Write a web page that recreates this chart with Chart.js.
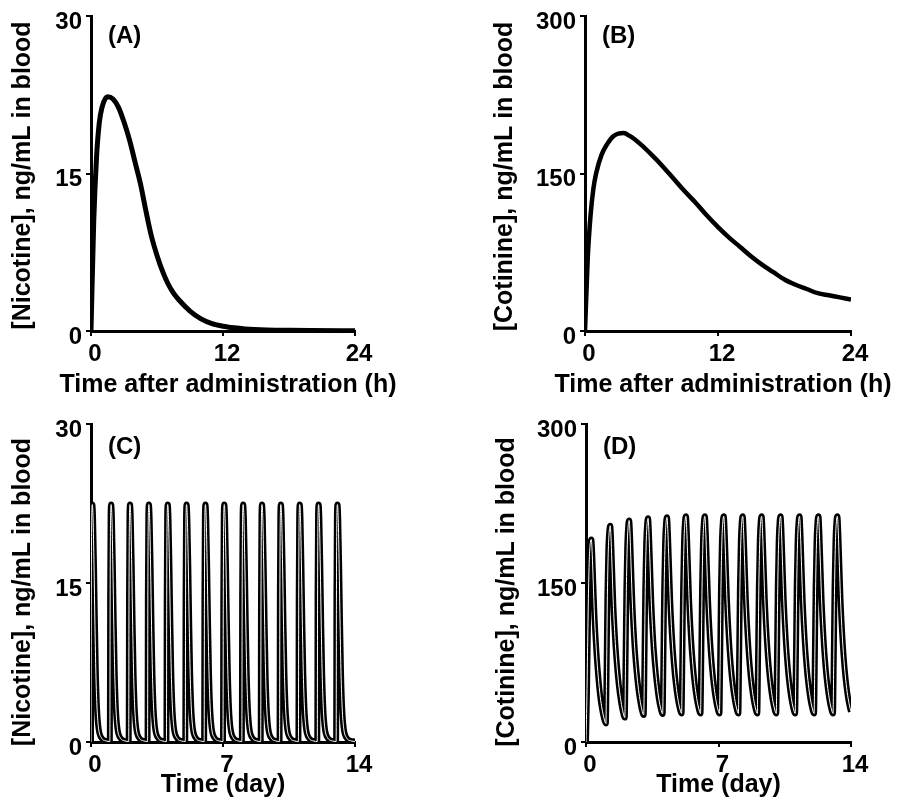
<!DOCTYPE html>
<html>
<head>
<meta charset="utf-8">
<title>Nicotine and cotinine in blood</title>
<script src="https://cdn.jsdelivr.net/npm/chart.js@4.4.1/dist/chart.umd.min.js"></script>
<style>
  body { margin: 0; background: #fff; }
  canvas { position: absolute; }
</style>
</head>
<body>
<canvas id="panelA" width="449" height="401" style="left:0;top:0"></canvas>
<canvas id="panelB" width="450" height="401" style="left:449px;top:0"></canvas>
<canvas id="panelC" width="449" height="401" style="left:0;top:401px"></canvas>
<canvas id="panelD" width="450" height="401" style="left:449px;top:401px"></canvas>
<script>
// (A) single dose, nicotine (ng/mL) vs hours
const hoursA = [0, 0.25, 0.5, 0.75, 1, 1.5, 2, 2.5, 3, 3.5, 4, 4.5, 5, 5.5, 6, 6.5, 7, 7.5, 8, 9, 10, 11, 12, 13, 14, 16, 18, 20, 24];
const nicotineA = [0, 10.5, 16.5, 19.8, 21.3, 22.3, 22.1, 21.3, 19.9, 18.2, 16.1, 14.0, 11.4, 9.0, 7.2, 5.7, 4.5, 3.6, 2.95, 1.9, 1.15, 0.7, 0.45, 0.3, 0.2, 0.1, 0.06, 0.04, 0.02];

// (B) single dose, cotinine (ng/mL) vs hours
const hoursB = [0, 0.25, 0.5, 0.75, 1, 1.5, 2, 2.5, 3, 3.5, 4, 5, 6, 7, 8, 9, 10, 11, 12, 13, 14, 15, 16, 17, 18, 19, 20, 21, 22, 23, 24];
const cotinineB = [0, 70, 110, 135, 150, 168, 178, 185, 188, 188.5, 186, 178, 168, 157, 145, 133, 122, 110, 99, 89, 80, 71, 63, 56, 49, 44, 40, 36, 34, 32, 30];

// (C) daily doses, nicotine vs days
const daysC = [
  0, 0.015, 0.04, 0.07, 0.11, 0.16, 0.21, 0.26, 0.32, 0.4, 0.55, 0.8,
  1, 1.015, 1.04, 1.07, 1.11, 1.16, 1.21, 1.26, 1.32, 1.4, 1.55, 1.8,
  2, 2.015, 2.04, 2.07, 2.11, 2.16, 2.21, 2.26, 2.32, 2.4, 2.55, 2.8,
  3, 3.015, 3.04, 3.07, 3.11, 3.16, 3.21, 3.26, 3.32, 3.4, 3.55, 3.8,
  4, 4.015, 4.04, 4.07, 4.11, 4.16, 4.21, 4.26, 4.32, 4.4, 4.55, 4.8,
  5, 5.015, 5.04, 5.07, 5.11, 5.16, 5.21, 5.26, 5.32, 5.4, 5.55, 5.8,
  6, 6.015, 6.04, 6.07, 6.11, 6.16, 6.21, 6.26, 6.32, 6.4, 6.55, 6.8,
  7, 7.015, 7.04, 7.07, 7.11, 7.16, 7.21, 7.26, 7.32, 7.4, 7.55, 7.8,
  8, 8.015, 8.04, 8.07, 8.11, 8.16, 8.21, 8.26, 8.32, 8.4, 8.55, 8.8,
  9, 9.015, 9.04, 9.07, 9.11, 9.16, 9.21, 9.26, 9.32, 9.4, 9.55, 9.8,
  10, 10.015, 10.04, 10.07, 10.11, 10.16, 10.21, 10.26, 10.32, 10.4, 10.55, 10.8,
  11, 11.015, 11.04, 11.07, 11.11, 11.16, 11.21, 11.26, 11.32, 11.4, 11.55, 11.8,
  12, 12.015, 12.04, 12.07, 12.11, 12.16, 12.21, 12.26, 12.32, 12.4, 12.55, 12.8,
  13, 13.015, 13.04, 13.07, 13.11, 13.16, 13.21, 13.26, 13.32, 13.4, 13.55, 13.8,
  14
];
const nicotineC = [
  0, 13.5, 21.3, 22.4, 21.1, 16.6, 11.0, 6.4, 3.2, 1.3, 0.4, 0.1,
  0.05, 13.5, 21.3, 22.4, 21.1, 16.6, 11.0, 6.4, 3.2, 1.3, 0.4, 0.1,
  0.05, 13.5, 21.3, 22.4, 21.1, 16.6, 11.0, 6.4, 3.2, 1.3, 0.4, 0.1,
  0.05, 13.5, 21.3, 22.4, 21.1, 16.6, 11.0, 6.4, 3.2, 1.3, 0.4, 0.1,
  0.05, 13.5, 21.3, 22.4, 21.1, 16.6, 11.0, 6.4, 3.2, 1.3, 0.4, 0.1,
  0.05, 13.5, 21.3, 22.4, 21.1, 16.6, 11.0, 6.4, 3.2, 1.3, 0.4, 0.1,
  0.05, 13.5, 21.3, 22.4, 21.1, 16.6, 11.0, 6.4, 3.2, 1.3, 0.4, 0.1,
  0.05, 13.5, 21.3, 22.4, 21.1, 16.6, 11.0, 6.4, 3.2, 1.3, 0.4, 0.1,
  0.05, 13.5, 21.3, 22.4, 21.1, 16.6, 11.0, 6.4, 3.2, 1.3, 0.4, 0.1,
  0.05, 13.5, 21.3, 22.4, 21.1, 16.6, 11.0, 6.4, 3.2, 1.3, 0.4, 0.1,
  0.05, 13.5, 21.3, 22.4, 21.1, 16.6, 11.0, 6.4, 3.2, 1.3, 0.4, 0.1,
  0.05, 13.5, 21.3, 22.4, 21.1, 16.6, 11.0, 6.4, 3.2, 1.3, 0.4, 0.1,
  0.05, 13.5, 21.3, 22.4, 21.1, 16.6, 11.0, 6.4, 3.2, 1.3, 0.4, 0.1,
  0.05, 13.5, 21.3, 22.4, 21.1, 16.6, 11.0, 6.4, 3.2, 1.3, 0.4, 0.1,
  0.05
];

// (D) daily doses, cotinine vs days
const daysD = [
  0, 0.05, 0.09, 0.13, 0.18, 0.23, 0.28, 0.33, 0.38, 0.45, 0.55, 0.65, 0.75, 0.85, 0.95,
  1.05, 1.09, 1.13, 1.18, 1.23, 1.28, 1.33, 1.38, 1.45, 1.55, 1.65, 1.75, 1.85, 1.95,
  2.05, 2.09, 2.13, 2.18, 2.23, 2.28, 2.33, 2.38, 2.45, 2.55, 2.65, 2.75, 2.85, 2.95,
  3.05, 3.09, 3.13, 3.18, 3.23, 3.28, 3.33, 3.38, 3.45, 3.55, 3.65, 3.75, 3.85, 3.95,
  4.05, 4.09, 4.13, 4.18, 4.23, 4.28, 4.33, 4.38, 4.45, 4.55, 4.65, 4.75, 4.85, 4.95,
  5.05, 5.09, 5.13, 5.18, 5.23, 5.28, 5.33, 5.38, 5.45, 5.55, 5.65, 5.75, 5.85, 5.95,
  6.05, 6.09, 6.13, 6.18, 6.23, 6.28, 6.33, 6.38, 6.45, 6.55, 6.65, 6.75, 6.85, 6.95,
  7.05, 7.09, 7.13, 7.18, 7.23, 7.28, 7.33, 7.38, 7.45, 7.55, 7.65, 7.75, 7.85, 7.95,
  8.05, 8.09, 8.13, 8.18, 8.23, 8.28, 8.33, 8.38, 8.45, 8.55, 8.65, 8.75, 8.85, 8.95,
  9.05, 9.09, 9.13, 9.18, 9.23, 9.28, 9.33, 9.38, 9.45, 9.55, 9.65, 9.75, 9.85, 9.95,
  10.05, 10.09, 10.13, 10.18, 10.23, 10.28, 10.33, 10.38, 10.45, 10.55, 10.65, 10.75, 10.85, 10.95,
  11.05, 11.09, 11.13, 11.18, 11.23, 11.28, 11.33, 11.38, 11.45, 11.55, 11.65, 11.75, 11.85, 11.95,
  12.05, 12.09, 12.13, 12.18, 12.23, 12.28, 12.33, 12.38, 12.45, 12.55, 12.65, 12.75, 12.85, 12.95,
  13.05, 13.09, 13.13, 13.18, 13.23, 13.28, 13.33, 13.38, 13.45, 13.55, 13.65, 13.75, 13.85, 13.95,
  14
];
const cotinineD = [
  0, 45, 95, 140, 175, 188, 191, 177, 152, 118, 85, 61, 43, 31, 22.5,
  17.5, 72, 138, 182, 199, 204, 189, 163, 127, 93, 69, 51, 38, 28.5,
  23, 77, 142, 186, 204, 209, 194, 167, 131, 95, 71, 53, 40, 30.5,
  25.5, 79, 144, 188, 206, 211, 195, 169, 132, 96, 72, 54, 40.5, 31.5,
  26.5, 80, 145, 189, 207, 212, 196, 170, 133, 97, 72, 54, 41, 32,
  27, 80, 145, 190, 208, 213, 197, 170, 133, 97, 72, 54, 41, 32,
  27, 80, 145, 190, 208, 213, 197, 170, 133, 97, 72, 54, 41, 32,
  27, 80, 145, 190, 208, 213, 197, 170, 133, 97, 72, 54, 41, 32,
  27, 80, 145, 190, 208, 213, 197, 170, 133, 97, 72, 54, 41, 32,
  27, 80, 145, 190, 208, 213, 197, 170, 133, 97, 72, 54, 41, 32,
  27, 80, 145, 190, 208, 213, 197, 170, 133, 97, 72, 54, 41, 32,
  27, 80, 145, 190, 208, 213, 197, 170, 133, 97, 72, 54, 41, 32,
  27, 80, 145, 190, 208, 213, 197, 170, 133, 97, 72, 54, 41, 32,
  27, 80, 145, 190, 208, 213, 197, 170, 133, 97, 72, 54, 41, 32,
  28.5
];

// tick labels
const hourTicks = [0, 12, 24];
const dayTicks = [0, 7, 14];
const nicotineTicks = [0, 15, 30];
const cotinineTicks = [0, 150, 300];

const FONT = "'Liberation Sans', Arial, Helvetica, sans-serif";

// "(A)" etc. in the top left of each plot, plus both axis titles
const panelText = {
  id: 'panelText',
  afterDraw(chart, args, opts) {
    const { ctx, chartArea } = chart;
    ctx.save();
    ctx.fillStyle = '#000';
    ctx.textBaseline = 'middle';
    ctx.font = `bold 24px ${FONT}`;
    ctx.fillText(opts.label, chartArea.left + 17, chartArea.top + opts.labelDy);
    ctx.font = `bold 25px ${FONT}`;
    ctx.textAlign = 'center';
    ctx.fillText(opts.xTitle, (chartArea.left + chartArea.right) / 2 + opts.xTitleDx, opts.xTitleY);
    ctx.translate(opts.yTitleX, (chartArea.top + chartArea.bottom) / 2 + opts.yTitleDy);
    ctx.rotate(-Math.PI / 2);
    ctx.fillText(opts.yTitle, 0, 0);
    ctx.restore();
  }
};

function axis(ticks, fitSize, isX) {
  return {
    type: 'linear',
    min: ticks[0],
    max: ticks[ticks.length - 1],
    afterBuildTicks: s => { s.ticks = ticks.map(v => ({ value: v })); },
    afterFit: s => { if (isX) s.height = fitSize; else s.width = fitSize; },
    border: { display: true, color: '#000', width: 3 },
    grid: { display: true, drawOnChartArea: false, drawTicks: true, tickLength: 5, color: '#000', lineWidth: 2 },
    ticks: {
      color: '#000',
      font: { family: FONT, size: 24, weight: 'bold', lineHeight: 1 },
      padding: isX ? 6 : 4,
      labelOffset: isX ? 4 : 6,
      maxRotation: 0,
      autoSkip: false
    }
  };
}

function drawPanel(id, p) {
  const points = p.x.map((x, i) => ({ x: x, y: p.y[i] }));
  const datasets = [{
    data: points, borderColor: '#000', borderWidth: p.lineWidth,
    pointRadius: 0, cubicInterpolationMode: 'monotone', order: 1
  }];
  if (p.hollow) {
    datasets.push({
      data: points, borderColor: '#fff', borderWidth: 1,
      pointRadius: 0, cubicInterpolationMode: 'monotone', order: 0
    });
  }
  new Chart(document.getElementById(id), {
    type: 'line',
    data: { datasets },
    options: {
      responsive: false,
      animation: false,
      events: [],
      layout: { padding: p.padding },
      plugins: {
        legend: { display: false },
        tooltip: { enabled: false },
        panelText: {
          label: p.label, labelDy: p.labelDy,
          xTitle: p.xTitle, xTitleDx: p.xTitleDx, xTitleY: p.xTitleY,
          yTitle: p.yTitle, yTitleX: p.yTitleX, yTitleDy: p.yTitleDy
        }
      },
      scales: {
        x: axis(p.xTicks, p.xHeight, true),
        y: axis(p.yTicks, p.yWidth, false)
      }
    },
    plugins: [panelText]
  });
}

drawPanel('panelA', {
  x: hoursA, y: nicotineA, xTicks: hourTicks, yTicks: nicotineTicks, lineWidth: 5,
  label: '(A)', labelDy: 20, padding: { left: 0, top: 15, right: 94, bottom: 0 },
  xHeight: 70, yWidth: 91, xTitle: 'Time after administration (h)', xTitleDx: 5, xTitleY: 385,
  yTitle: '[Nicotine], ng/mL in blood', yTitleX: 23, yTitleDy: 2
});
drawPanel('panelB', {
  x: hoursB, y: cotinineB, xTicks: hourTicks, yTicks: cotinineTicks, lineWidth: 4.5,
  label: '(B)', labelDy: 20, padding: { left: 0, top: 15, right: 48, bottom: 0 },
  xHeight: 70, yWidth: 136, xTitle: 'Time after administration (h)', xTitleDx: 5, xTitleY: 385,
  yTitle: '[Cotinine], ng/mL in blood', yTitleX: 56, yTitleDy: 3
});
drawPanel('panelC', {
  x: daysC, y: nicotineC, xTicks: dayTicks, yTicks: nicotineTicks, lineWidth: 6, hollow: true,
  label: '(C)', labelDy: 23, padding: { left: 0, top: 23, right: 94, bottom: 0 },
  xHeight: 60, yWidth: 91, xTitle: 'Time (day)', xTitleDx: 0, xTitleY: 384,
  yTitle: '[Nicotine], ng/mL in blood', yTitleX: 23, yTitleDy: 9
});
drawPanel('panelD', {
  x: daysD, y: cotinineD, xTicks: dayTicks, yTicks: cotinineTicks, lineWidth: 6, hollow: true,
  label: '(D)', labelDy: 23, padding: { left: 0, top: 23, right: 48, bottom: 0 },
  xHeight: 60, yWidth: 137, xTitle: 'Time (day)', xTitleDx: 0, xTitleY: 384,
  yTitle: '[Cotinine], ng/mL in blood', yTitleX: 58, yTitleDy: 9
});
</script>
</body>
</html>
